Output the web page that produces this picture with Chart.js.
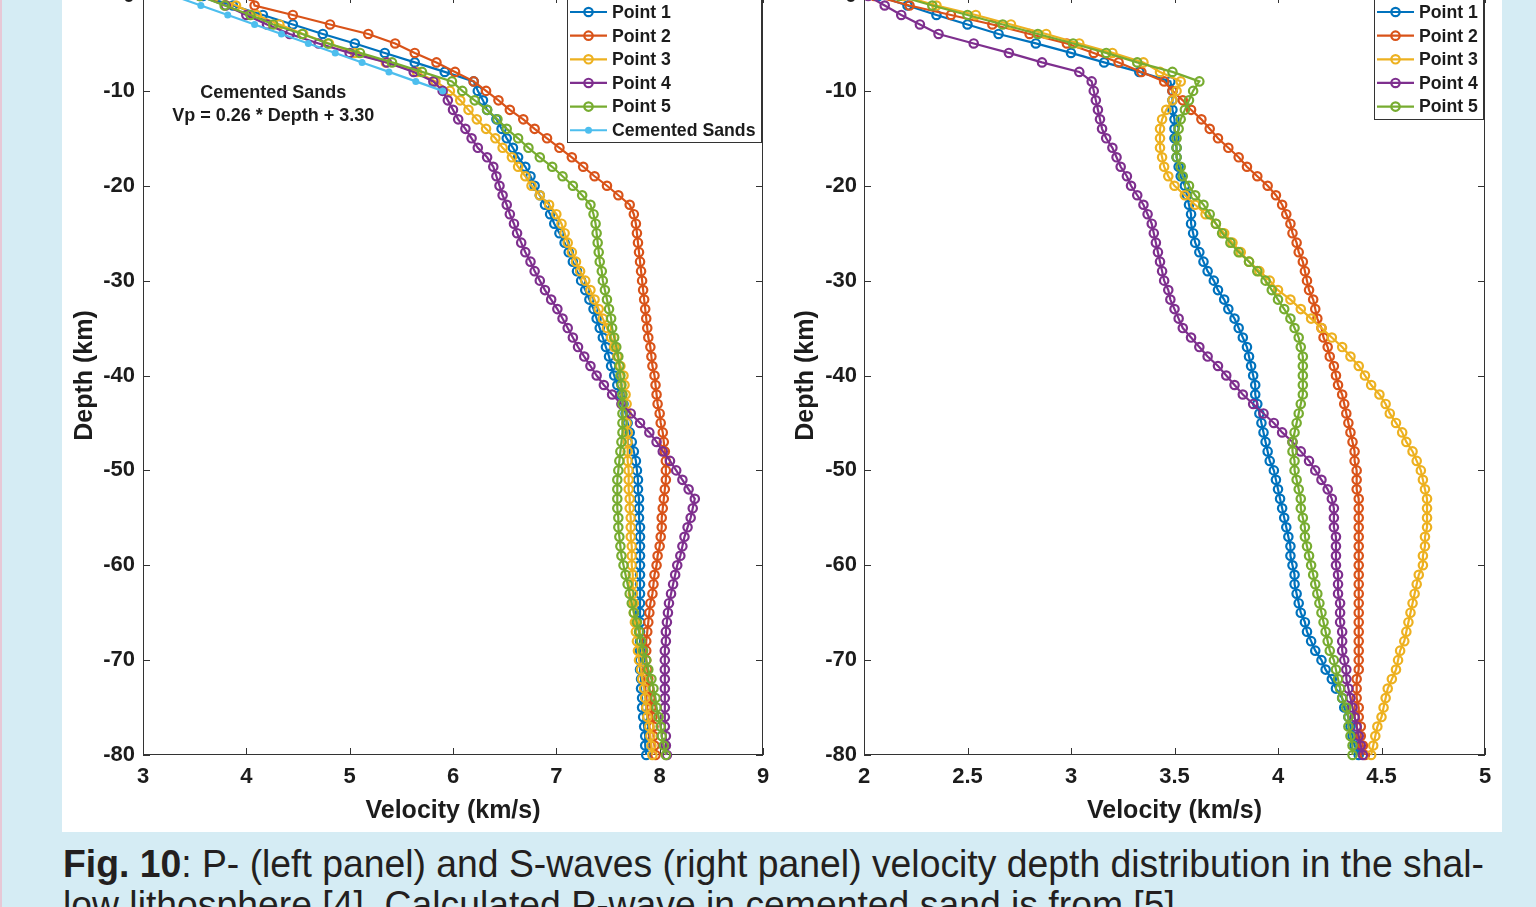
<!DOCTYPE html>
<html lang="en">
<head>
<meta charset="UTF-8">
<title>Fig. 10 - P- and S-wave velocity depth profiles</title>
<script src="https://cdn.jsdelivr.net/npm/chart.js"></script>
<style>
  html, body { margin: 0; padding: 0; }
  body {
    width: 1536px; height: 907px; overflow: hidden; position: relative;
    background: #d5ecf4;
  }
  .edge { position: absolute; left: 0; top: 0; width: 2px; height: 907px; background: #e7c8d6; }
  .panel { position: absolute; left: 62px; top: 0; width: 1440px; height: 832px; background: #fff; }
  canvas { position: absolute; top: -40px; }
  #pChart { left: 62px; }
  #sChart { left: 790px; }
  .cap {
    position: absolute; left: 63px; white-space: nowrap; transform-origin: 0 50%;
    font-family: "Liberation Sans Narrow", "Arial Narrow", "Liberation Sans", sans-serif;
    font-size: 39px; line-height: 41px; color: #231f20;
  }
  #cap1 { top: 843px; }
  #cap2 { top: 884px; }
</style>
</head>
<body>
  <div class="edge"></div>
  <div class="panel"></div>
  <canvas id="pChart" width="728" height="872"></canvas>
  <canvas id="sChart" width="712" height="872"></canvas>
  <div class="cap" id="cap1"><b>Fig. 10</b>: P- (left panel) and S-waves (right panel) velocity depth distribution in the shal-</div>
  <div class="cap" id="cap2">low lithosphere [4]. Calculated P-wave in cemented sand is from [5].</div>

<script>
// depth below surface, km (one sample per km)
const depth = [0,-1,-2,-3,-4,-5,-6,-7,-8,-9,-10,-11,-12,-13,-14,-15,-16,-17,-18,-19,
  -20,-21,-22,-23,-24,-25,-26,-27,-28,-29,-30,-31,-32,-33,-34,-35,-36,-37,-38,-39,
  -40,-41,-42,-43,-44,-45,-46,-47,-48,-49,-50,-51,-52,-53,-54,-55,-56,-57,-58,-59,
  -60,-61,-62,-63,-64,-65,-66,-67,-68,-69,-70,-71,-72,-73,-74,-75,-76,-77,-78,-79,-80];

const seriesNames = ['Point 1', 'Point 2', 'Point 3', 'Point 4', 'Point 5'];
const sandName = 'Cemented Sands';

// P-wave velocity (km/s), left panel
const pPoint1 = [3.58,3.87,4.16,4.45,4.74,5.05,5.34,5.63,5.92,6.20,
  6.24,6.29,6.33,6.42,6.47,6.52,6.58,6.63,6.70,6.75,
  6.79,6.84,6.89,6.94,6.98,7.03,7.08,7.12,7.16,7.20,
  7.24,7.28,7.32,7.36,7.39,7.42,7.45,7.48,7.51,7.53,
  7.56,7.59,7.62,7.65,7.67,7.69,7.71,7.73,7.75,7.77,
  7.78,7.79,7.79,7.80,7.80,7.80,7.81,7.81,7.81,7.81,
  7.81,7.81,7.81,7.81,7.81,7.81,7.81,7.81,7.81,7.81,
  7.81,7.81,7.82,7.82,7.83,7.83,7.84,7.85,7.86,7.86,7.87];
const pPoint2 = [4.05,4.08,4.45,4.81,5.18,5.44,5.63,5.84,6.02,6.20,
  6.32,6.44,6.55,6.68,6.79,6.91,7.03,7.15,7.26,7.37,
  7.49,7.60,7.71,7.75,7.77,7.78,7.79,7.80,7.81,7.82,
  7.83,7.84,7.85,7.86,7.87,7.88,7.89,7.91,7.92,7.93,
  7.95,7.96,7.97,7.98,8.00,8.01,8.03,8.04,8.05,8.06,
  8.06,8.06,8.05,8.04,8.03,8.02,8.02,8.01,8.00,7.98,
  7.97,7.95,7.94,7.93,7.91,7.90,7.89,7.88,7.87,7.87,
  7.87,7.88,7.89,7.90,7.91,7.92,7.93,7.94,7.94,7.95,7.96];
const pPoint3 = [3.70,3.90,4.10,4.32,4.55,4.80,5.05,5.35,5.65,5.83,
  5.97,6.07,6.15,6.23,6.32,6.41,6.48,6.57,6.63,6.70,
  6.76,6.84,6.93,7.00,7.05,7.08,7.11,7.15,7.19,7.23,
  7.28,7.33,7.37,7.41,7.45,7.49,7.53,7.56,7.59,7.62,
  7.65,7.66,7.67,7.68,7.68,7.68,7.69,7.69,7.69,7.69,
  7.70,7.70,7.70,7.71,7.71,7.72,7.72,7.72,7.73,7.73,
  7.73,7.74,7.74,7.74,7.75,7.75,7.76,7.77,7.78,7.79,
  7.80,7.82,7.83,7.85,7.86,7.87,7.88,7.90,7.91,7.92,7.93];
const pPoint4 = [3.55,3.80,4.00,4.20,4.42,4.70,5.00,5.36,5.62,5.81,
  5.90,5.95,6.00,6.05,6.12,6.18,6.24,6.33,6.39,6.42,
  6.45,6.48,6.52,6.55,6.59,6.62,6.66,6.70,6.75,6.79,
  6.84,6.89,6.95,7.01,7.06,7.11,7.16,7.21,7.27,7.33,
  7.39,7.46,7.54,7.63,7.72,7.81,7.90,7.97,8.03,8.10,
  8.16,8.22,8.28,8.34,8.32,8.30,8.27,8.24,8.22,8.20,
  8.17,8.15,8.13,8.11,8.09,8.08,8.07,8.06,8.06,8.05,
  8.05,8.05,8.05,8.05,8.05,8.05,8.05,8.05,8.06,8.06,8.07];
const pPoint5 = [3.55,3.79,4.04,4.26,4.54,4.79,5.10,5.41,5.70,5.99,
  6.09,6.21,6.33,6.43,6.52,6.63,6.73,6.84,6.96,7.06,
  7.16,7.25,7.33,7.36,7.38,7.39,7.40,7.41,7.42,7.44,
  7.45,7.47,7.49,7.51,7.53,7.54,7.56,7.58,7.60,7.61,
  7.62,7.63,7.64,7.64,7.64,7.64,7.64,7.63,7.62,7.61,
  7.60,7.59,7.59,7.59,7.59,7.60,7.60,7.61,7.62,7.63,
  7.65,7.67,7.69,7.71,7.73,7.75,7.78,7.80,7.82,7.84,
  7.87,7.89,7.92,7.94,7.96,7.97,7.99,8.01,8.02,8.04,8.06];
// cemented sands, 0 to -10 km
const pSands = [3.30,3.56,3.82,4.08,4.34,4.60,4.86,5.12,5.38,5.64,5.90];

// S-wave velocity (km/s), right panel
const sPoint1 = [2.07,2.21,2.35,2.50,2.65,2.83,3.00,3.16,3.33,3.48,
  3.49,3.49,3.49,3.50,3.50,3.50,3.51,3.51,3.52,3.53,
  3.55,3.56,3.57,3.58,3.58,3.59,3.60,3.62,3.64,3.66,
  3.69,3.71,3.74,3.76,3.79,3.81,3.83,3.85,3.86,3.87,
  3.88,3.89,3.89,3.90,3.91,3.92,3.93,3.94,3.95,3.96,
  3.98,3.99,4.00,4.01,4.02,4.03,4.04,4.05,4.06,4.06,
  4.07,4.08,4.08,4.09,4.10,4.11,4.13,4.14,4.16,4.18,
  4.21,4.23,4.26,4.28,4.31,4.32,4.34,4.35,4.36,4.37,4.39];
const sPoint2 = [2.05,2.22,2.42,2.62,2.80,2.98,3.11,3.23,3.34,3.45,
  3.49,3.54,3.58,3.63,3.67,3.71,3.76,3.81,3.85,3.90,
  3.95,3.99,4.02,4.04,4.06,4.07,4.09,4.10,4.12,4.13,
  4.14,4.15,4.17,4.18,4.19,4.21,4.22,4.24,4.25,4.27,
  4.28,4.29,4.31,4.32,4.33,4.34,4.35,4.36,4.37,4.37,
  4.38,4.38,4.38,4.39,4.39,4.39,4.39,4.39,4.39,4.39,
  4.39,4.39,4.39,4.39,4.39,4.39,4.39,4.39,4.39,4.39,
  4.39,4.39,4.38,4.38,4.38,4.39,4.39,4.40,4.40,4.41,4.42];
const sPoint3 = [2.19,2.35,2.54,2.71,2.88,3.04,3.20,3.35,3.43,3.53,
  3.51,3.49,3.46,3.44,3.43,3.43,3.43,3.44,3.45,3.47,
  3.50,3.55,3.60,3.65,3.70,3.74,3.78,3.82,3.86,3.91,
  3.96,4.00,4.06,4.11,4.16,4.21,4.26,4.31,4.35,4.39,
  4.42,4.45,4.49,4.52,4.54,4.57,4.60,4.62,4.65,4.67,
  4.69,4.70,4.71,4.72,4.72,4.72,4.72,4.71,4.71,4.70,
  4.70,4.68,4.67,4.66,4.65,4.64,4.63,4.62,4.61,4.59,
  4.58,4.57,4.55,4.53,4.52,4.51,4.50,4.48,4.47,4.46,4.45];
const sPoint4 = [2.02,2.10,2.18,2.27,2.36,2.53,2.70,2.86,3.04,3.10,
  3.11,3.12,3.13,3.14,3.15,3.17,3.20,3.22,3.24,3.27,
  3.29,3.32,3.35,3.37,3.39,3.40,3.41,3.42,3.43,3.44,
  3.45,3.47,3.48,3.50,3.52,3.54,3.58,3.62,3.66,3.71,
  3.75,3.79,3.83,3.88,3.93,3.98,4.02,4.07,4.11,4.15,
  4.18,4.21,4.24,4.26,4.27,4.27,4.27,4.28,4.28,4.28,
  4.28,4.29,4.29,4.29,4.30,4.30,4.30,4.31,4.31,4.31,
  4.32,4.33,4.33,4.34,4.35,4.36,4.37,4.38,4.39,4.40,4.41];
const sPoint5 = [2.17,2.33,2.50,2.67,2.84,3.01,3.17,3.32,3.49,3.62,
  3.59,3.57,3.55,3.53,3.52,3.51,3.51,3.51,3.53,3.54,
  3.57,3.60,3.64,3.67,3.70,3.73,3.77,3.81,3.86,3.90,
  3.94,3.97,4.00,4.03,4.06,4.08,4.10,4.11,4.12,4.12,
  4.12,4.12,4.12,4.11,4.10,4.09,4.08,4.07,4.07,4.08,
  4.08,4.09,4.10,4.11,4.11,4.12,4.13,4.13,4.14,4.15,
  4.16,4.17,4.18,4.19,4.20,4.21,4.22,4.23,4.24,4.25,
  4.27,4.28,4.29,4.30,4.31,4.33,4.34,4.34,4.35,4.36,4.36];

// axis ticks
const depthTicks = [0, -10, -20, -30, -40, -50, -60, -70, -80];
const pVelTicks = [3, 4, 5, 6, 7, 8, 9];
const sVelTicks = [2, 2.5, 3, 3.5, 4, 4.5, 5];

// matlab default line colours
const colors = ['#0072bd', '#d95319', '#edb120', '#7e2f8e', '#77ac30'];
const sandColor = '#4dbeee';

const fontFamily = '"Liberation Sans", Arial, sans-serif';
const ink = '#1c1c1c';
const axisInk = '#333';
Chart.defaults.font.family = fontFamily;
Chart.defaults.color = ink;

function makeSet(label, values, color, order, dot) {
  return {
    label: label,
    data: values.map((v, i) => ({ x: v, y: depth[i] })),
    showLine: true,
    borderColor: color,
    backgroundColor: color,
    borderWidth: 2.2,
    pointRadius: dot ? 3.5 : 4.2,
    pointBorderWidth: dot ? 0 : 2.2,
    pointBorderColor: color,
    pointBackgroundColor: dot ? color : 'rgba(0,0,0,0)',
    tension: 0,
    clip: false,
    order: order
  };
}

// box around the axes with inward ticks, like matlab
const axesBox = {
  id: 'axesBox',
  beforeDatasetsDraw(chart) {
    const { ctx, chartArea: a, scales: { x, y } } = chart;
    const tl = 7;
    ctx.save();
    ctx.strokeStyle = axisInk;
    ctx.lineWidth = 1;
    ctx.strokeRect(a.left + 0.5, a.top + 0.5, a.width - 1, a.height - 1);
    ctx.beginPath();
    x.ticks.forEach(t => {
      const px = Math.round(x.getPixelForValue(t.value)) + 0.5;
      ctx.moveTo(px, a.bottom); ctx.lineTo(px, a.bottom - tl);
      ctx.moveTo(px, a.top); ctx.lineTo(px, a.top + tl);
    });
    y.ticks.forEach(t => {
      const py = Math.round(y.getPixelForValue(t.value)) + 0.5;
      ctx.moveTo(a.left, py); ctx.lineTo(a.left + tl, py);
      ctx.moveTo(a.right, py); ctx.lineTo(a.right - tl, py);
    });
    ctx.stroke();
    ctx.restore();
  }
};

// legend box sitting inside the top right corner of the axes
const boxLegend = {
  id: 'boxLegend',
  afterDatasetsDraw(chart, args, opts) {
    const { ctx, chartArea: a } = chart;
    const sets = chart.data.datasets;
    ctx.save();
    ctx.font = 'bold ' + opts.size + 'px ' + fontFamily;
    const textW = Math.max(...sets.map(s => ctx.measureText(s.label).width));
    const w = Math.round(45 + textW + 5);
    const h = Math.round(opts.first + (sets.length - 1) * opts.row + opts.last);
    const left = Math.round(a.right - opts.inset - w);
    const top = Math.round(a.top + opts.top);
    ctx.fillStyle = '#fff';
    ctx.fillRect(left, top, w, h);
    ctx.strokeStyle = axisInk;
    ctx.lineWidth = 1;
    ctx.strokeRect(left + 0.5, top + 0.5, w, h);
    sets.forEach((s, i) => {
      const cy = top + opts.first + i * opts.row;
      ctx.strokeStyle = s.borderColor;
      ctx.lineWidth = 2.2;
      ctx.beginPath();
      ctx.moveTo(left + 3, cy);
      ctx.lineTo(left + 40, cy);
      ctx.stroke();
      ctx.beginPath();
      ctx.arc(left + 21.5, cy, s.pointRadius, 0, Math.PI * 2);
      if (s.pointBorderWidth) {
        ctx.lineWidth = s.pointBorderWidth;
        ctx.stroke();
      } else {
        ctx.fillStyle = s.borderColor;
        ctx.fill();
      }
      ctx.fillStyle = ink;
      ctx.textBaseline = 'middle';
      ctx.textAlign = 'left';
      ctx.fillText(s.label, left + 45, cy + 1);
    });
    ctx.restore();
  }
};

// free text placed in data units
const noteText = {
  id: 'noteText',
  afterDatasetsDraw(chart, args, opts) {
    if (!opts.lines) return;
    const { ctx, scales: { x, y } } = chart;
    ctx.save();
    ctx.font = 'bold ' + opts.size + 'px ' + fontFamily;
    ctx.fillStyle = ink;
    ctx.textAlign = 'center';
    ctx.textBaseline = 'middle';
    opts.lines.forEach(l => ctx.fillText(l.text, x.getPixelForValue(l.x), y.getPixelForValue(l.y)));
    ctx.restore();
  }
};

function makeOptions(o) {
  return {
    responsive: false,
    animation: false,
    events: [],
    layout: { padding: { left: 0, right: o.padRight, top: 36, bottom: 0 } },
    plugins: {
      legend: { display: false },
      tooltip: { enabled: false },
      boxLegend: { size: 17.7, first: 15, row: 23.65, last: 12, inset: 2, top: 1 },
      noteText: { size: 18, lines: o.notes }
    },
    scales: {
      x: {
        type: 'linear',
        min: o.xTicks[0],
        max: o.xTicks[o.xTicks.length - 1],
        afterBuildTicks: s => { s.ticks = o.xTicks.map(v => ({ value: v })); },
        ticks: {
          callback: v => String(v),
          font: { size: 22, weight: 'bold' },
          color: ink,
          padding: 9,
          maxRotation: 0,
          autoSkip: false
        },
        grid: { display: false, drawTicks: false },
        border: { display: false },
        title: {
          display: true,
          text: 'Velocity (km/s)',
          font: { size: 25, weight: 'bold' },
          color: ink,
          padding: { top: 0, bottom: 6 }
        },
        afterFit: s => { s.height = 77; }
      },
      y: {
        type: 'linear',
        min: -80,
        max: 0,
        afterBuildTicks: s => { s.ticks = depthTicks.map(v => ({ value: v })); },
        ticks: {
          callback: v => String(v),
          font: { size: 22, weight: 'bold' },
          color: ink,
          padding: o.yPad,
          autoSkip: false
        },
        grid: { display: false, drawTicks: false },
        border: { display: false },
        title: {
          display: true,
          text: 'Depth (km)',
          font: { size: 25, weight: 'bold' },
          color: ink,
          padding: { top: o.yTitlePad, bottom: 0 }
        },
        afterFit: s => { s.width = o.yWidth; }
      }
    }
  };
}

const pValues = [pPoint1, pPoint2, pPoint3, pPoint4, pPoint5];
const sValues = [sPoint1, sPoint2, sPoint3, sPoint4, sPoint5];

const pSets = pValues.map((vals, i) => makeSet(seriesNames[i], vals, colors[i], 6 - i, false));
pSets.push(makeSet(sandName, pSands, sandColor, 0, true));
const sSets = sValues.map((vals, i) => makeSet(seriesNames[i], vals, colors[i], 6 - i, false));

new Chart(document.getElementById('pChart'), {
  type: 'scatter',
  data: { datasets: pSets },
  options: makeOptions({
    padRight: 27, yWidth: 81, yPad: 8, yTitlePad: 8, xTicks: pVelTicks,
    notes: [
      { text: 'Cemented Sands', x: 4.26, y: -10.2 },
      { text: 'Vp = 0.26 * Depth + 3.30', x: 4.26, y: -12.7 }
    ]
  }),
  plugins: [axesBox, boxLegend, noteText]
});

new Chart(document.getElementById('sChart'), {
  type: 'scatter',
  data: { datasets: sSets },
  options: makeOptions({
    padRight: 17, yWidth: 74, yPad: 7, yTitlePad: 1, xTicks: sVelTicks, notes: null
  }),
  plugins: [axesBox, boxLegend, noteText]
});

// squeeze the caption to the printed line width
function fitCaption() {
  const first = document.getElementById('cap1');
  const k = 1421 / first.scrollWidth;
  document.querySelectorAll('.cap').forEach(el => { el.style.transform = 'scaleX(' + k + ')'; });
}
fitCaption();
</script>
</body>
</html>
